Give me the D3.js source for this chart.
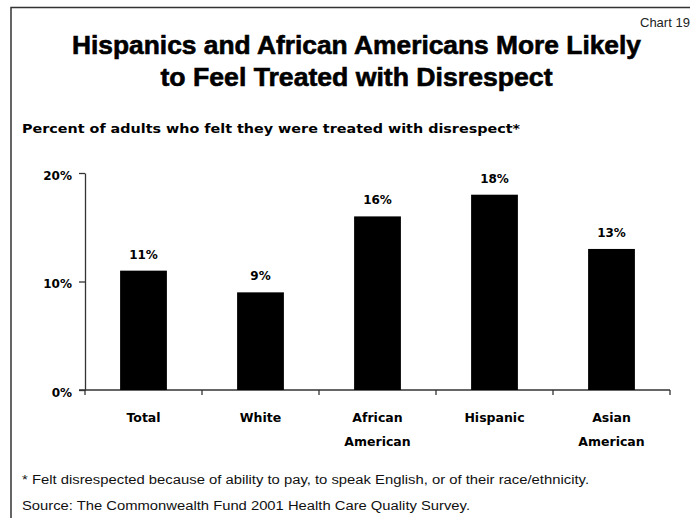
<!DOCTYPE html>
<html><head><meta charset="utf-8">
<script src="https://cdn.jsdelivr.net/npm/d3@7"></script>
<style>html,body{margin:0;padding:0;background:#fff;overflow:hidden}</style>
</head><body>
<script>
const categories = [["Total"],["White"],["African","American"],["Hispanic"],["Asian","American"]];
const values = [11, 9, 16, 18, 13];
const yTicks = [0, 10, 20];
const titleLines = ["Hispanics and African Americans More Likely","to Feel Treated with Disrespect"];
const subtitle = "Percent of adults who felt they were treated with disrespect*";
const footnote = "* Felt disrespected because of ability to pay, to speak English, or of their race/ethnicity.";
const source = "Source: The Commonwealth Fund 2001 Health Care Quality Survey.";
const chartNo = "Chart 19";

const W = 690, H = 518;
const svg = d3.select("body").append("svg").attr("width", W).attr("height", H);
svg.append("rect").attr("width", W).attr("height", H).attr("fill", "#fff");

// frame
svg.append("path").attr("d", `M11,${H} L11,7.5 L${W},7.5`).attr("fill","none").attr("stroke","#333").attr("stroke-width",1.5);

svg.append("text").attr("x", 640).attr("y", 27).text(chartNo)
  .attr("font-family","Liberation Sans Narrow, Liberation Sans, Arial").attr("font-size", 13).attr("fill","#222");

const tY = [54, 86], tW = [569, 392];
titleLines.forEach((t,i)=>{
  svg.append("text").attr("x", 356.5).attr("y", tY[i]).attr("text-anchor","middle")
    .attr("font-family","Liberation Sans, Arial").attr("font-weight","bold").attr("font-size",25)
    .attr("stroke","#000").attr("stroke-width",0.6)
    .attr("textLength", tW[i]).attr("lengthAdjust","spacingAndGlyphs").text(t);
});

svg.append("text").attr("x", 22).attr("y", 133).attr("font-family","DejaVu Sans, Verdana")
  .attr("font-weight","bold").attr("font-size",12.5).attr("textLength",498).attr("lengthAdjust","spacingAndGlyphs").text(subtitle);

const x = d3.scaleBand().domain(d3.range(categories.length)).range([85, 670]).paddingInner(0.6).paddingOuter(0.3);
const y = d3.scaleLinear().domain([0, 20]).range([390, 173]);
const step = x.step();
const gap = (step - x.bandwidth())/2;

const fontV = "DejaVu Sans, Verdana";

// y axis
const ya = svg.append("g").attr("transform","translate(85,0)")
  .call(d3.axisLeft(y).tickValues(yTicks).tickSize(6).tickSizeOuter(0).tickPadding(7).tickFormat(d=>d+"%"));
ya.select(".domain").attr("stroke","#333").attr("stroke-width",1.3);
ya.selectAll(".tick line").attr("stroke","#333").attr("stroke-width",1.3);
ya.selectAll(".tick text").attr("font-family",fontV).attr("font-weight","bold").attr("font-size",12).attr("fill","#000").attr("dy","0.5em");

// x axis
const bounds = d3.range(categories.length+1).map(i => i < categories.length ? x(i) - gap : x(categories.length-1) + x.bandwidth() + gap);
svg.append("line").attr("x1", 79).attr("x2", bounds[bounds.length-1]).attr("y1", y(0)).attr("y2", y(0)).attr("stroke","#333").attr("stroke-width",1.3);
svg.selectAll(".xt").data(bounds).join("line").attr("x1",d=>d).attr("x2",d=>d).attr("y1",y(0)).attr("y2",y(0)+5).attr("stroke","#333").attr("stroke-width",1.3);

// bars
svg.selectAll(".bar").data(values).join("rect")
  .attr("x",(d,i)=>x(i)).attr("width",x.bandwidth())
  .attr("y",d=>y(d)).attr("height",d=>y(0)-y(d)).attr("fill","#000");

svg.selectAll(".vl").data(values).join("text")
  .attr("x",(d,i)=>x(i)+x.bandwidth()/2).attr("y",d=>y(d)-12).attr("text-anchor","middle")
  .attr("font-family",fontV).attr("font-weight","bold").attr("font-size",12).text(d=>d+"%");

// category labels
categories.forEach((lines,i)=>{
  lines.forEach((l,j)=>{
    svg.append("text").attr("x", x(i)+x.bandwidth()/2).attr("y", 422 + j*24).attr("text-anchor","middle")
      .attr("font-family",fontV).attr("font-weight","bold").attr("font-size",12.5).text(l);
  });
});

svg.append("text").attr("x",22).attr("y",484).attr("font-family","Liberation Sans, Arial").attr("font-size",12.5)
  .attr("fill","#111").attr("textLength",567).attr("lengthAdjust","spacingAndGlyphs").text(footnote);
svg.append("text").attr("x",22).attr("y",510).attr("font-family","Liberation Sans, Arial").attr("font-size",12.5)
  .attr("fill","#111").attr("textLength",448).attr("lengthAdjust","spacingAndGlyphs").text(source);
</script>
</body></html>
